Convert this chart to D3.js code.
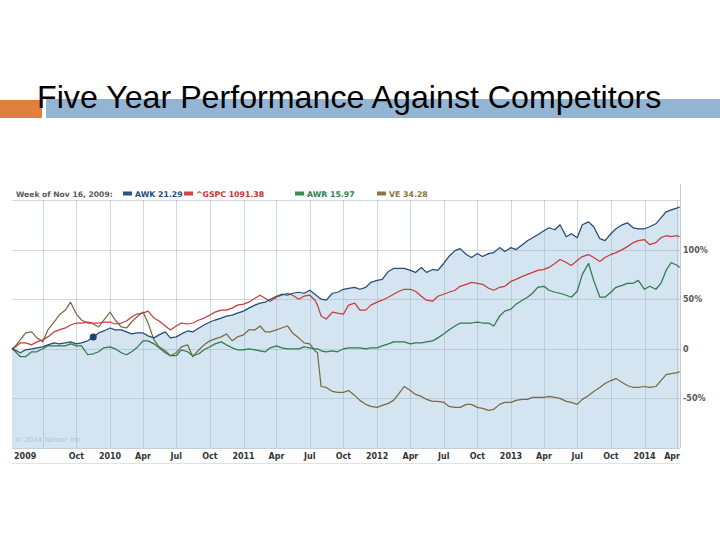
<!DOCTYPE html>
<html><head><meta charset="utf-8">
<script src="https://cdn.jsdelivr.net/npm/d3@7"></script>
<style>body{margin:0;background:#fff} svg{display:block}</style>
</head><body>
<svg id="c" width="720" height="540"></svg>
<script>
// ---------- data ----------
const dates = [
"2009-04-08","2009-04-15","2009-05-01","2009-05-15","2009-06-01","2009-06-15","2009-07-01","2009-07-15","2009-08-01","2009-08-15","2009-09-01","2009-09-15","2009-10-01","2009-10-15","2009-11-01","2009-11-16","2009-12-01","2009-12-15",
"2010-01-01","2010-01-15","2010-02-01","2010-02-15","2010-03-01","2010-03-15","2010-04-01","2010-04-15","2010-05-01","2010-05-15","2010-06-01","2010-06-15","2010-07-01","2010-07-15","2010-08-01","2010-08-15","2010-09-01","2010-09-15","2010-10-01","2010-10-15","2010-11-01","2010-11-15","2010-12-01","2010-12-15",
"2011-01-01","2011-01-15","2011-02-01","2011-02-15","2011-03-01","2011-03-15","2011-04-01","2011-04-15","2011-05-01","2011-05-15","2011-06-01","2011-06-15","2011-07-01","2011-07-15","2011-07-22","2011-08-01","2011-08-15","2011-09-01","2011-09-15","2011-10-01","2011-10-15","2011-11-01","2011-11-15","2011-12-01","2011-12-15",
"2012-01-01","2012-01-15","2012-02-01","2012-02-15","2012-03-01","2012-03-15","2012-04-01","2012-04-15","2012-05-01","2012-05-15","2012-06-01","2012-06-15","2012-07-01","2012-07-15","2012-08-01","2012-08-15","2012-09-01","2012-09-15","2012-10-01","2012-10-15","2012-11-01","2012-11-15","2012-12-01","2012-12-15",
"2013-01-01","2013-01-15","2013-02-01","2013-02-15","2013-03-01","2013-03-15","2013-04-01","2013-04-15","2013-05-01","2013-05-15","2013-06-01","2013-06-15","2013-07-01","2013-07-15","2013-08-01","2013-08-15","2013-09-01","2013-09-15","2013-10-01","2013-10-15","2013-11-01","2013-11-15","2013-12-01","2013-12-15",
"2014-01-01","2014-01-15","2014-02-01","2014-02-15","2014-03-01","2014-03-15","2014-04-01","2014-04-07"];

const awk = [0,-1,-4,-1,0,1,2,4,6,5,6,7,5,6,8,12,16,18,
21,19,19,17,15,16,16,13,11,14,17,11,12,15,18,17,21,24,27,29,31,33,34,36,
38,41,44,46,47,50,53,55,54,56,57,56,59,55,53,50,49,56,57,60,61,62,60,62,67,
69,70,78,81,81,81,79,77,82,77,80,79,86,93,99,101,95,92,96,93,96,97,102,98,
102,100,105,109,112,115,119,122,120,125,113,116,112,125,128,123,111,109,116,121,125,127,122,121,
121,123,126,132,138,140,142,143];

const gspc = [0,1,6,6,4,7,9,12,17,19,21,24,26,26,27,26,26,27,
27,25,26,28,32,35,36,38,31,28,23,19,23,26,25,26,29,31,34,37,39,39,41,44,
45,47,51,54,51,48,52,54,56,54,50,53,54,49,44,33,30,37,36,35,44,46,39,39,44,
47,49,52,55,58,60,60,58,53,49,48,53,55,57,59,63,65,67,66,65,61,59,62,63,
68,70,73,75,77,79,80,82,86,90,87,84,89,93,95,92,88,92,95,97,100,103,107,109,
110,105,107,112,114,113,114,113];

const awr = [0,-2,-8,-8,-3,-3,0,3,3,3,3,5,3,3,-6,-5,-3,1,
2,0,-4,-6,-3,1,8,8,5,1,-4,-7,-7,-1,-3,-7,-5,-1,2,5,7,4,1,-1,
-1,0,-1,-2,-3,1,3,1,0,0,0,2,1,0,0,-2,-3,-2,-3,0,1,1,1,0,1,
1,3,5,7,7,7,5,6,6,7,8,11,15,19,23,26,26,26,27,26,26,23,33,38,
40,45,49,52,56,62,63,59,57,56,54,52,58,75,86,69,52,52,57,62,64,66,66,69,
60,63,60,66,79,87,84,82];

const ve = [0,2,9,16,17,11,7,19,27,34,39,47,35,29,26,25,22,29,
37,29,22,21,27,32,37,26,9,2,-2,-7,-4,2,4,-8,-1,4,8,10,12,15,8,12,
14,19,19,23,17,17,19,21,23,16,11,6,5,-2,-4,-38,-39,-43,-44,-44,-42,-47,-52,-56,-58,
-59,-57,-55,-52,-45,-38,-42,-46,-48,-51,-53,-53,-54,-58,-59,-59,-56,-56,-59,-60,-62,-61,-56,-54,
-54,-52,-51,-51,-49,-49,-49,-48,-49,-50,-53,-54,-56,-51,-47,-43,-39,-35,-32,-30,-34,-37,-39,-39,
-38,-39,-38,-32,-26,-25,-24,-23];

const seriesLabels = ["AWK 21.29", "^GSPC 1091.38", "AWR 15.97", "VE 34.28"];
const hoverLabel = "Week of Nov 16, 2009:";
const hoverDate = "2009-11-16";
const yGridValues = [150, 100, 50, 0, -50];
const yTickValues = [100, 50, 0, -50];
const yTickLabels = ["100%", "50%", "0", "-50%"];
const xTickDates = ["2009-07-01","2009-10-01","2010-01-01","2010-04-01","2010-07-01","2010-10-01","2011-01-01","2011-04-01","2011-07-01","2011-10-01","2012-01-01","2012-04-01","2012-07-01","2012-10-01","2013-01-01","2013-04-01","2013-07-01","2013-10-01","2014-01-01","2014-04-01"];
const xTickLabels = ["","Oct","2010","Apr","Jul","Oct","2011","Apr","Jul","Oct","2012","Apr","Jul","Oct","2013","Apr","Jul","Oct","2014","Apr"];
const firstYearLabel = "2009";
const titleText = "Five Year Performance Against Competitors";
const copyrightText = "\u00a9 2014 Yahoo! Inc.";

// ---------- drawing ----------
const parse = d3.timeParse("%Y-%m-%d");
const D = dates.map(parse);
const svg = d3.select("#c");
const font = "'DejaVu Sans', Verdana, sans-serif";

// title bars
svg.append("rect").attr("x", 0).attr("y", 100).attr("width", 42).attr("height", 18).attr("fill", "#e07f3e");
svg.append("rect").attr("x", 46).attr("y", 99).attr("width", 674).attr("height", 19).attr("fill", "#94b4d3");
svg.append("text").attr("x", 37).attr("y", 108).text(titleText)
  .attr("font-family", "'Liberation Sans', Arial, sans-serif").attr("font-size", 32.2).attr("fill", "#000");

const x = d3.scaleTime().domain([parse("2009-04-08"), parse("2014-04-08")]).range([12, 680]);
const y = d3.scaleLinear().domain([-100, 150]).range([448, 200]);

// area under AWK
const area = d3.area().x((d, i) => x(D[i])).y0(y(-100)).y1(d => y(d));
svg.append("path").datum(awk).attr("d", area).attr("fill", "#d4e4f0");

// grid
const g = svg.append("g").attr("stroke", "#9fb3c3").attr("stroke-opacity", 0.5).attr("stroke-width", 1);
yGridValues.forEach(v => g.append("line").attr("x1", 12).attr("x2", 680)
  .attr("y1", Math.round(y(v)) + 0.5).attr("y2", Math.round(y(v)) + 0.5));
xTickDates.forEach(s => { const xx = Math.round(x(parse(s))) + 0.5;
  g.append("line").attr("x1", xx).attr("x2", xx).attr("y1", y(150)).attr("y2", y(-100)); });
svg.append("line").attr("x1", 680.5).attr("x2", 680.5).attr("y1", 184).attr("y2", 448).attr("stroke", "#c8c8c8");
svg.append("line").attr("x1", 12).attr("x2", 680).attr("y1", 448.5).attr("y2", 448.5).attr("stroke", "#c4d0d8");
svg.append("line").attr("x1", 12).attr("x2", 680).attr("y1", 463.5).attr("y2", 463.5).attr("stroke", "#e2e2e2");

// copyright
svg.append("text").attr("x", 15).attr("y", 442).text(copyrightText)
  .attr("font-family", font).attr("font-size", 7).attr("fill", "#b3c4d1");

// lines
const line = d3.line().x((d, i) => x(D[i])).y(d => y(d));
const series = [
  {v: ve, c: "#7b6a42"},
  {v: awr, c: "#2f7a4b"},
  {v: gspc, c: "#c93b3b"},
  {v: awk, c: "#274a76"}
];
series.forEach(s => svg.append("path").datum(s.v).attr("d", line)
  .attr("fill", "none").attr("stroke", s.c).attr("stroke-width", 1.25).attr("stroke-linejoin", "round"));

// hover dot
const hi = dates.indexOf(hoverDate);
svg.append("circle").attr("cx", x(D[hi])).attr("cy", y(awk[hi])).attr("r", 3.5).attr("fill", "#1f4272");

// legend
svg.append("text").attr("x", 16).attr("y", 197).text(hoverLabel)
  .attr("font-family", font).attr("font-size", 7.6).attr("font-weight", "bold").attr("fill", "#5a5a5a");
const legX = [123, 184, 295, 377];
const swatch = ["#2c5283", "#d24343", "#3b8a57", "#8d7744"];
const legText = ["#2a4a7c", "#c23333", "#2f8050", "#8a7440"];
seriesLabels.forEach((t, i) => {
  svg.append("rect").attr("x", legX[i]).attr("y", 191.5).attr("width", 9).attr("height", 4).attr("fill", swatch[i]);
  svg.append("text").attr("x", legX[i] + 12).attr("y", 197).text(t)
    .attr("font-family", font).attr("font-size", 7.8).attr("font-weight", "bold").attr("fill", legText[i]);
});

// right axis labels
yTickValues.forEach((v, i) => svg.append("text").attr("x", 683).attr("y", y(v) + 3).text(yTickLabels[i])
  .attr("font-family", font).attr("font-size", 8).attr("font-weight", "bold").attr("fill", "#555"));

// x labels
svg.append("text").attr("x", 14).attr("y", 459).text(firstYearLabel)
  .attr("font-family", font).attr("font-size", 8).attr("font-weight", "bold").attr("fill", "#333");
xTickDates.forEach((s, i) => {
  if (!xTickLabels[i]) return;
  const last = i === xTickDates.length - 1;
  svg.append("text").attr("x", last ? 680 : x(parse(s))).attr("y", 459).text(xTickLabels[i])
    .attr("text-anchor", last ? "end" : "middle")
    .attr("font-family", font).attr("font-size", 8).attr("font-weight", "bold").attr("fill", "#333");
});
</script>
</body></html>
